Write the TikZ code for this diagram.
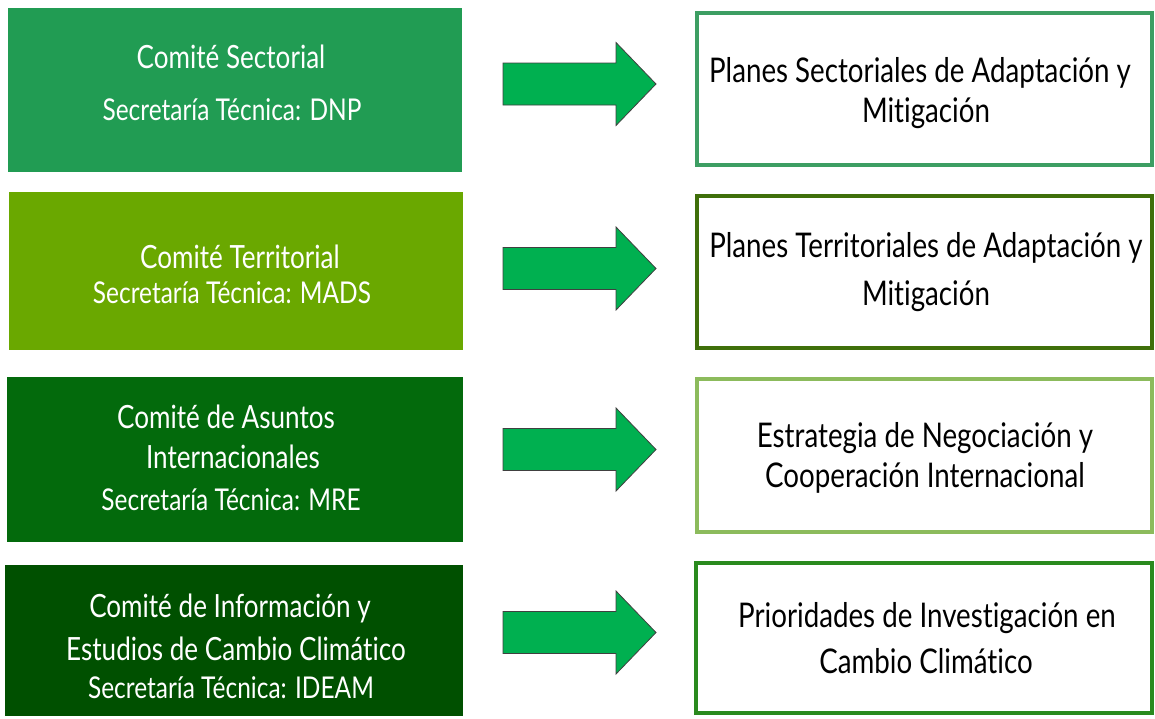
\documentclass[tikz,border=0pt]{standalone}
\usepackage{fontspec}
\setmainfont[FakeStretch=0.815, Ligatures=NoCommon]{Lato}
\definecolor{cA}{HTML}{219C53}
\definecolor{cB}{HTML}{6AA800}
\definecolor{cC}{HTML}{036A0C}
\definecolor{cD}{HTML}{005000}
\definecolor{rA}{HTML}{3D9E63}
\definecolor{rB}{HTML}{3F6F0A}
\definecolor{rC}{HTML}{8CBB5C}
\definecolor{rD}{HTML}{2A8A1E}
\definecolor{arrowfill}{HTML}{00B050}
\tikzset{
  rightbox/.style={fill=white, line width=1.6pt},
  ltxt/.style={anchor=base, text=white, inner sep=0pt, font=\fontsize{15}{18}\selectfont},
  ltitle/.style={anchor=base, text=white, inner sep=0pt, font=\fontsize{16}{19}\selectfont},
  rtxt/.style={anchor=base, text=black, inner sep=0pt, font=\fontsize{17}{20}\selectfont},
  blockarrow/.style={fill=arrowfill, draw=black!75, line width=0.4pt, line join=miter}
}
\begin{document}
\begin{tikzpicture}[x=0.5pt, y=-0.5pt]
\useasboundingbox (0,0) rectangle (1155,718);
\fill[white] (0,0) rectangle (1155,718);
% left boxes
\fill[cA] (8,8) rectangle (462,172);
\fill[cB] (9,192) rectangle (463,350);
\fill[cC] (7,377) rectangle (463,542);
\fill[cD] (5,565) rectangle (463,716);
% right boxes
\draw[rightbox, draw=rA] (697,13) rectangle (1152,165);
\draw[rightbox, draw=rB, line width=2pt] (697,196) rectangle (1152,348);
\draw[rightbox, draw=rC] (697,379) rectangle (1152,532);
\draw[rightbox, draw=rD] (696,563) rectangle (1152,713);
% arrows
\foreach \cy in {84, 268.5, 449.5, 632.5} {
  \draw[blockarrow] (503,\cy-21) -- (616,\cy-21) -- (616,\cy-41.5) -- (656,\cy) -- (616,\cy+41.5) -- (616,\cy+21) -- (503,\cy+21) -- cycle;
}
% left texts
\node[ltitle] (l1a) at (231,68) {Comité Sectorial};
\node[ltxt] (l1b) at (232,120) {Secretaría Técnica: DNP};
\node[ltitle] (l2a) at (240,268) {Comité Territorial};
\node[ltxt] (l2b) at (232,303) {Secretaría Técnica: MADS};
\node[ltitle] (l3a) at (226,428) {Comité de Asuntos};
\node[ltitle] (l3b) at (233,468) {Internacionales};
\node[ltxt] (l3c) at (231,510) {Secretaría Técnica: MRE};
\node[ltitle] (l4a) at (230,617) {Comité de Información y};
\node[ltitle] (l4b) at (236,660) {Estudios de Cambio Climático};
\node[ltxt] (l4c) at (231,698) {Secretaría Técnica: IDEAM};
% right texts
\node[rtxt] (r1a) at (920,82) {Planes Sectoriales de Adaptación y};
\node[rtxt] (r1b) at (926,122) {Mitigación};
\node[rtxt] (r2a) at (926,257) {Planes Territoriales de Adaptación y};
\node[rtxt] (r2b) at (926,305) {Mitigación};
\node[rtxt] (r3a) at (925,447) {Estrategia de Negociación y};
\node[rtxt] (r3b) at (925,487) {Cooperación Internacional};
\node[rtxt] (r4a) at (927,627) {Prioridades de Investigación en};
\node[rtxt] (r4b) at (926,673) {Cambio Climático};
\end{tikzpicture}
\end{document}
